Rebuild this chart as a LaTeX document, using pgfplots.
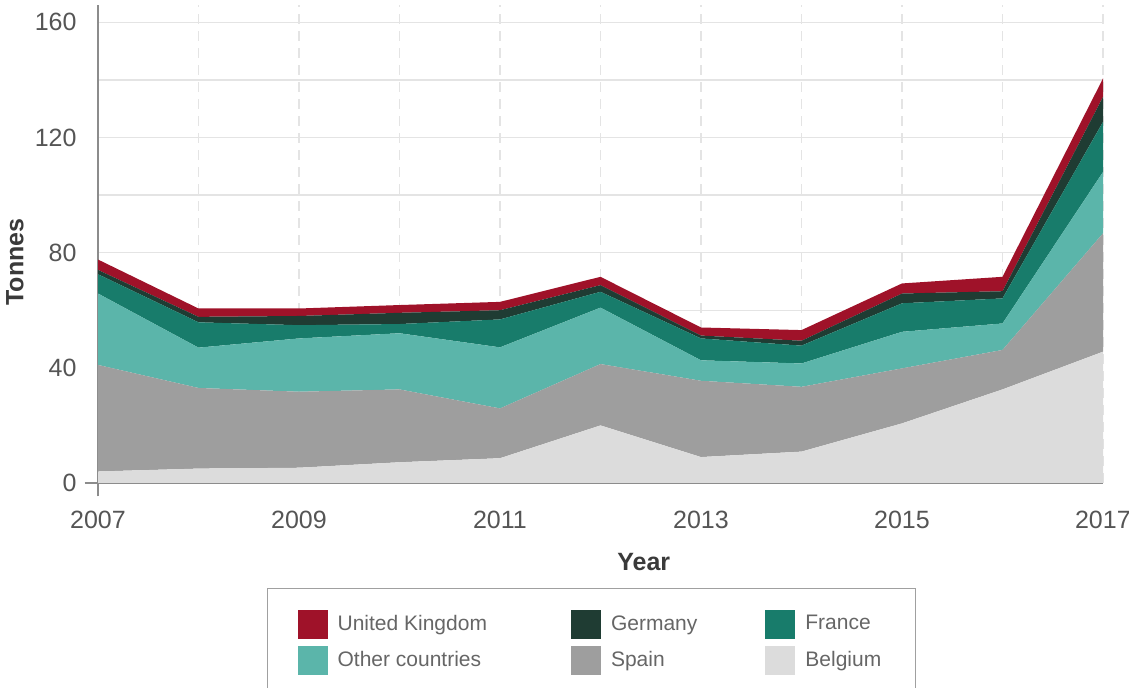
\documentclass[border=0pt]{standalone}
\usepackage{fontspec}
\setmainfont{Liberation Sans}
\usepackage{pgfplots}
\usepackage{pgfplotstable}
\pgfplotsset{compat=1.18}

\definecolor{c-uk}{HTML}{9F1229}
\definecolor{c-de}{HTML}{1F3C33}
\definecolor{c-fr}{HTML}{187C6B}
\definecolor{c-ot}{HTML}{5BB5AA}
\definecolor{c-es}{HTML}{9E9E9E}
\definecolor{c-be}{HTML}{DCDCDC}
\definecolor{axisgray}{HTML}{8C8C8C}
\definecolor{gridgray}{HTML}{E4E4E4}
\definecolor{ticktext}{HTML}{555555}
\definecolor{labeltext}{HTML}{3A3A3A}
\definecolor{legendtext}{HTML}{666666}
\definecolor{legendgray}{HTML}{A0A0A0}

% grid under the areas, axis lines over them
\pgfplotsset{
    layers/grid below/.define layer set={
        axis background,axis grid,main,axis ticks,axis lines,
        axis tick labels,axis descriptions,axis foreground}{},
}

% tonnes per year and country
\pgfplotstableread{
year  be    es    ot    fr    de   uk
2007  4.0   37.0  24.8  6.7   1.5  3.6
2008  5.0   28.0  14.0  8.8   1.9  2.9
2009  5.3   26.4  18.5  4.6   3.2  2.6
2010  7.2   25.3  19.5  3.2   3.9  2.7
2011  8.6   17.3  21.2  9.7   3.2  2.9
2012  20.0  21.3  19.6  5.5   2.3  2.9
2013  9.0   26.5  7.1   7.6   1.0  2.8
2014  10.9  22.5  8.1   6.2   1.7  3.7
2015  20.7  19.1  12.7  9.9   3.4  3.5
2016  32.5  13.7  9.2   8.7   2.5  5.0
2017  45.6  41.1  21.3  17.4  8.7  6.4
}\tonnes

\begin{document}
\begin{tikzpicture}
\begin{axis}[
    set layers=grid below,
    axis on top=false,
    scale only axis,
    width=502.5pt,
    height=239pt,
    xmin=2007, xmax=2017,
    ymin=0, ymax=166,
    stack plots=y,
    axis lines=left,
    axis line style={-, draw=axisgray, line width=0.7pt, shorten <=-6.75pt},
    xtick={2007,...,2017},
    xticklabels={2007,,2009,,2011,,2013,,2015,,2017},
    ytick={0,20,...,160},
    yticklabels={0,,40,,80,,120,,160},
    major tick length=0pt,
    xmajorgrids, ymajorgrids,
    x grid style={draw=gridgray, line width=0.7pt, dash pattern=on 5pt off 3.5pt},
    y grid style={draw=gridgray, line width=0.7pt},
    tick label style={font=\fontsize{12.5}{14}\selectfont, text=ticktext},
    xticklabel style={yshift=-10.5pt},
    yticklabel style={xshift=-7.2pt},
    xlabel={Year},
    ylabel={Tonnes},
    every axis x label/.style={at={(axis description cs:0.543,-0.165)}, anchor=center,
        font=\fontsize{12.5}{14}\selectfont\bfseries, text=labeltext},
    every axis y label/.style={at={(axis description cs:-0.0826,0.462)}, rotate=90, anchor=center,
        font=\fontsize{12.5}{14}\selectfont\bfseries, text=labeltext},
    legend columns=3,
    reverse legend,
    legend cell align=left,
    legend image code/.code={\fill[#1] (0pt,-7.25pt) rectangle (15pt,7.25pt);},
    legend style={
        at={(axis description cs:0.491,-0.2197)}, anchor=north,
        draw=legendgray, line width=0.7pt,
        font=\fontsize{10.5}{12}\selectfont, text=legendtext,
        inner xsep=15pt, inner ysep=10.5pt,
        row sep=3.75pt,
        /tikz/column 1/.style={column sep=3pt},
        /tikz/column 2/.style={column sep=40pt},
        /tikz/column 3/.style={column sep=3pt},
        /tikz/column 4/.style={column sep=32pt},
        /tikz/column 5/.style={column sep=3pt},
    },
]
    \addplot[fill=c-be, draw=none] table[x=year, y=be] {\tonnes} \closedcycle;
    \addlegendentry{Belgium}
    \addplot[fill=c-es, draw=none] table[x=year, y=es] {\tonnes} \closedcycle;
    \addlegendentry{Spain}
    \addplot[fill=c-ot, draw=none] table[x=year, y=ot] {\tonnes} \closedcycle;
    \addlegendentry{Other countries}
    \addplot[fill=c-fr, draw=none] table[x=year, y=fr] {\tonnes} \closedcycle;
    \addlegendentry{France}
    \addplot[fill=c-de, draw=none] table[x=year, y=de] {\tonnes} \closedcycle;
    \addlegendentry{Germany}
    \addplot[fill=c-uk, draw=none] table[x=year, y=uk] {\tonnes} \closedcycle;
    \addlegendentry{United Kingdom}
\end{axis}
\pgfresetboundingbox
\path[use as bounding box] (-49pt,-102.5pt) rectangle (515.5pt,241.5pt);
\end{tikzpicture}
\end{document}
